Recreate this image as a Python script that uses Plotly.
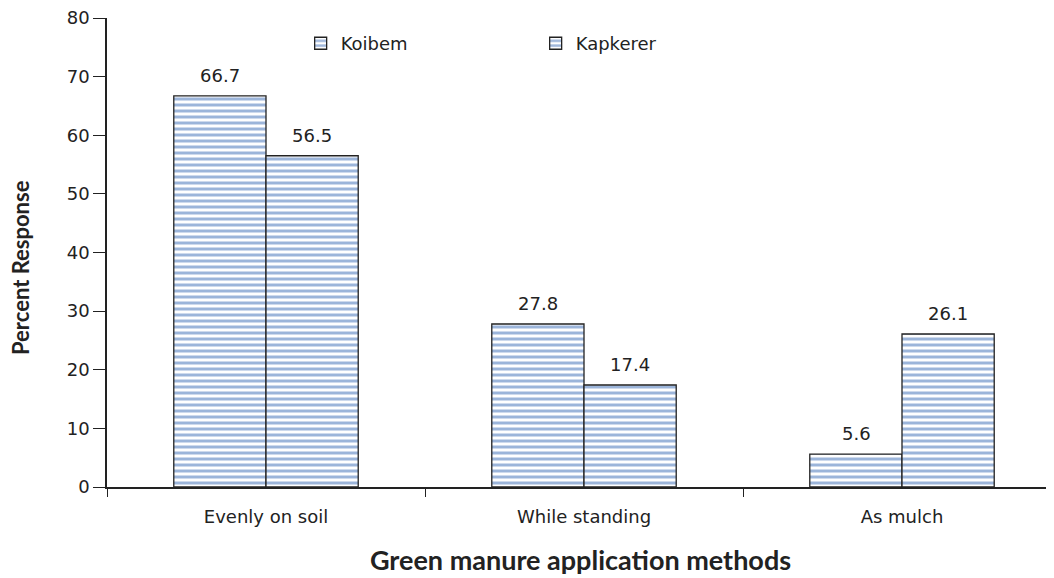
import plotly.graph_objects as go

categories = ["Evenly on soil", "While standing", "As mulch"]
koibem = [66.7, 27.8, 5.6]
kapkerer = [56.5, 17.4, 26.1]
series_names = ["Koibem", "Kapkerer"]

font_family = "DejaVu Sans, Verdana, sans-serif"
title_family = "Lato, Carlito, Calibri, sans-serif"
pattern = dict(shape="-", fgcolor="#3a6bb6", bgcolor="white", size=6, solidity=0.5, fillmode="overlay")

fig = go.Figure()
for name, vals in zip(series_names, [koibem, kapkerer]):
    fig.add_trace(go.Bar(
        x=categories, y=vals, name=name,
        marker=dict(color="white", pattern=pattern, line=dict(color="#222222", width=1.3)),
    ))

# data labels above the bars (grouped: left series shifted left, right series shifted right)
half_bar_px = 46
for vals, sgn in zip([koibem, kapkerer], [-1, 1]):
    for c, v in zip(categories, vals):
        fig.add_annotation(x=c, y=v, text=f"{v:.1f}", showarrow=False,
                           xshift=sgn * half_bar_px, yshift=8, yanchor="bottom",
                           font=dict(size=18, color="#222222", family=font_family))

# y-axis title (placed as annotation to match the original's vertical offset)
fig.add_annotation(text="<b>Percent Response</b>", xref="paper", yref="paper",
                   x=-0.0919, y=0.469, xanchor="center", yanchor="middle",
                   textangle=-90, showarrow=False,
                   font=dict(size=22, family=title_family, color="#222222"))

fig.update_layout(
    width=1046, height=570,
    barmode="group", bargap=0.42, bargroupgap=0,
    plot_bgcolor="white", paper_bgcolor="white",
    margin=dict(l=99, r=0, t=10, b=91),
    font=dict(family=font_family, size=18, color="#222222"),
    showlegend=True,
    legend=dict(orientation="h", x=0.2045, y=0.985, xanchor="left", yanchor="top",
                entrywidth=190, entrywidthmode="pixels",
                font=dict(size=18, family=font_family, color="#222222"),
                itemwidth=30, bgcolor="rgba(0,0,0,0)", traceorder="normal"),
    xaxis=dict(range=[-0.5, 2.478], showline=True, linecolor="#222222", linewidth=1.5,
               ticks="outside", ticklen=8, tickcolor="#222222", tickson="boundaries",
               showgrid=False, tickfont=dict(size=18), automargin=False,
               ticklabelstandoff=13, ticklabeloverflow="allow",
               title=dict(text="<b>Green manure application methods</b>",
                          font=dict(size=27, family=title_family), standoff=25)),
    yaxis=dict(range=[0, 80], dtick=10, showline=True, linecolor="#222222", linewidth=1.5,
               ticks="outside", ticklen=12, tickcolor="#222222", showgrid=False,
               zeroline=False, tickfont=dict(size=18), automargin=False,
               ticklabeloverflow="allow"),
)

fig.write_html("out.html")
